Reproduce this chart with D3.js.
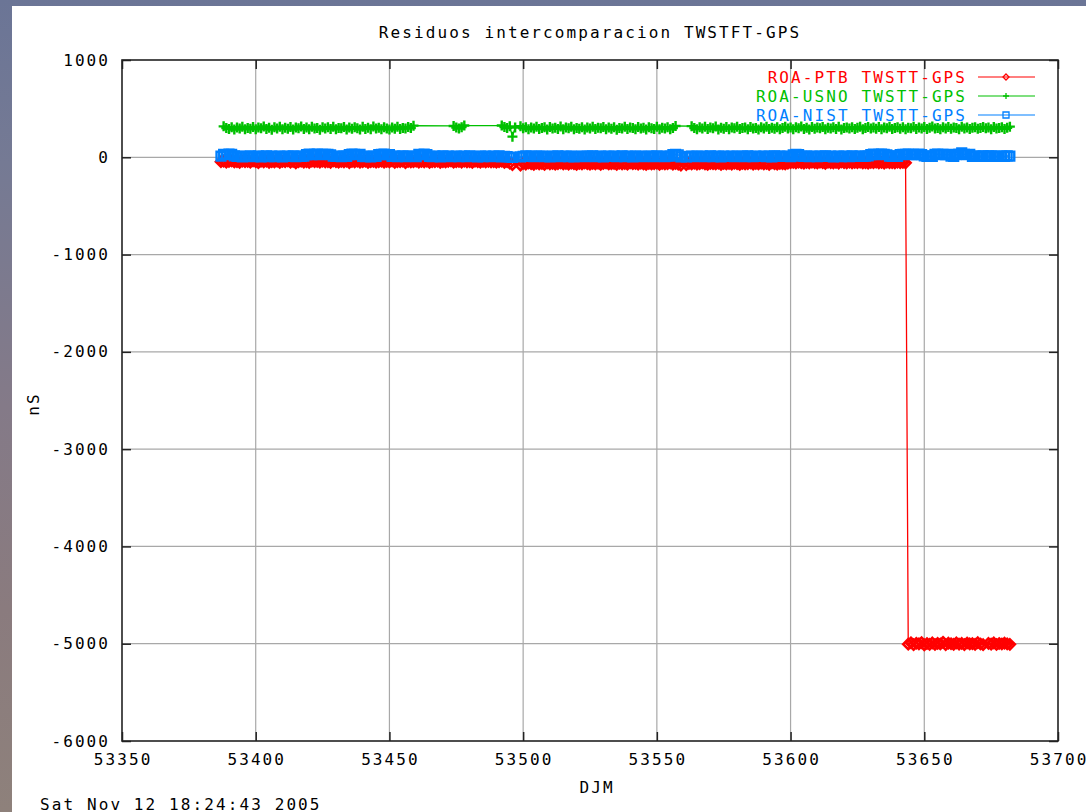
<!DOCTYPE html>
<html><head><meta charset="utf-8">
<script src="https://cdn.jsdelivr.net/npm/d3@7"></script>
<style>html,body{margin:0;padding:0;background:#fff;}svg{display:block;}</style>
</head><body>
<svg id="chart" width="1086" height="812"></svg>
<script>
// ---------------- DATA ----------------
const titleText = "Residuos intercomparacion TWSTFT-GPS";
const xLabelText = "DJM";
const yLabelText = "nS";
const dateText = "Sat Nov 12 18:24:43 2005";
const xTicks = [53350, 53400, 53450, 53500, 53550, 53600, 53650, 53700];
const yTicks = [1000, 0, -1000, -2000, -3000, -4000, -5000, -6000];
const seriesNames = ["ROA-PTB TWSTT-GPS", "ROA-USNO TWSTT-GPS", "ROA-NIST TWSTT-GPS"];

// daily samples (MJD = start + index), null = no measurement that day
const ptbStart = 53387;
const ptbValues = [
 -45,-40,-50,-42,-38,-48,-44,-52,-40,-46,
 -42,-50,-38,-45,-55,-41,-47,-39,-52,-44,
 -48,-40,-53,-43,-46,-38,-50,-42,-57,-45,
 -41,-49,-44,-52,-39,-46,-43,-51,-40,-47,
 -44,-52,-38,-46,-50,-42,-48,-40,-54,-43,
 -47,-41,-50,-44,-39,-53,-45,-42,-49,-46,
 -40,-51,-43,-47,-38,-52,-44,-46,-41,-55,
 -42,-48,-45,-39,-50,-43,-47,-41,-53,-44,
 -46,-40,-52,-44,-48,-42,-38,-51,-45,-43,
 -49,-41,-47,-44,-52,-40,-46,-50,-43,-48,
 -42,-47,-44,-51,-45,-40,-53,-46,-60,-75,
 null,null,-80,-62,-70,-58,-66,-72,-61,-68,
 -64,-73,-59,-67,-62,-71,-65,-58,-69,-63,
 -70,-60,-66,-74,-62,-68,-59,-65,-71,-63,
 -67,-61,-72,-64,-58,-69,-66,-62,-73,-60,
 -68,-63,-71,-59,-66,-64,-70,-61,-67,-74,
 -62,-69,-65,-60,-72,-63,-68,-66,-59,-71,
 -64,-70,-80,null,-75,-63,-68,-61,-70,-65,
 -59,-67,-72,-62,-66,-69,-60,-73,-64,-68,
 -63,-70,-61,-66,-74,-62,-68,-65,-59,-71,
 -64,-67,-60,-69,-63,-72,-58,-66,-70,-62,
 -65,-68,-61,-56,-52,-58,-50,-55,-60,-53,
 -57,-49,-54,-59,-51,-56,-62,-50,-55,-58,
 -52,-60,-48,-55,-57,-51,-59,-53,-56,-50,
 -58,-54,-61,-52,-55,-49,-57,-53,-60,-51,
 -56,-54,-59,-50,-55,-52,-57,
 -5005,-4990,-5010,-4995,-5002,-4988,-5012,-4998,-5006,-4992,
 -5008,-4996,-5003,-4985,-5011,-4994,-5000,-5007,-4991,-5004,
 -4997,-5009,-4993,-5002,-4999,-5006,-4989,-5003,-5010,null,
 -4996,-5005,-4992,-5008,-4998,-5003,-4994,-5001,-5006
];

const usnoStart = 53388;
const usnoValues = [
 318,300,292,310,285,305,296,315,288,302,
 294,312,287,306,298,316,290,303,284,309,
 297,314,289,304,293,311,286,307,299,317,
 291,305,288,313,295,302,284,310,296,308,
 290,315,287,301,298,312,285,306,294,309,
 299,286,313,292,304,289,316,295,303,288,
 310,297,285,307,293,314,290,301,296,311,
 300,325,
 null,null,null,null,null,null,null,null,null,null,null,null,null,null,
 322,305,295,310,326,
 null,null,null,null,null,null,null,null,null,null,null,null,null,
 326,312,300,318,212,305,
 null,
 320,298,310,288,305,295,314,290,302,309,
 286,311,297,304,292,316,289,306,299,313,
 287,301,294,310,285,307,296,315,291,303,
 298,312,288,305,293,309,284,302,297,314,
 290,306,300,288,311,295,303,286,308,299,
 292,315,289,304,296,310,287,301,322,
 null,null,null,null,null,
 320,300,287,309,296,313,290,305,298,316,
 285,303,294,311,289,307,299,314,292,302,
 306,288,312,295,301,286,309,297,315,291,
 304,293,310,287,300,313,296,305,289,308,
 298,316,291,303,285,311,294,306,299,312,
 288,304,297,310,292,315,286,301,307,295,
 309,290,303,314,287,300,311,296,305,293,
 312,289,306,298,315,291,302,308,294,310,
 287,304,299,313,292,307,296,311,290,303,
 316,295,301,288,309,297,312,293,305,300,
 289,314,296,307,291,303,310,294,300,312,
 298,306,288,311,295,302,309,292,304,315
];

const nistStart = 53387;
const nistValues = [
 12,30,28,32,30,15,8,12,5,10,
 8,14,6,10,12,4,9,15,7,11,
 6,10,13,5,9,12,8,14,6,10,
 9,12,28,32,26,30,34,27,31,29,
 30,26,12,8,10,6,14,9,28,32,
 30,26,29,10,7,12,5,11,8,27,
 30,33,26,28,9,12,6,10,14,7,
 11,8,13,6,30,27,32,28,10,7,
 12,9,5,14,8,11,6,10,13,7,
 9,12,6,15,8,10,5,13,7,11,
 9,6,12,8,14,5,10,7,3,-2,
 null,null,4,10,14,8,12,6,11,9,
 13,7,10,5,12,8,14,6,9,11,
 7,12,5,10,8,13,6,11,9,14,
 7,10,12,5,9,13,8,11,6,10,
 14,7,9,12,5,11,8,13,6,10,
 9,12,7,14,8,10,6,13,11,28,
 30,26,5,null,3,10,13,7,11,8,
 12,6,10,14,7,9,13,5,11,8,
 10,13,6,12,8,11,7,14,9,6,
 12,8,10,13,7,11,5,14,9,12,
 8,10,13,6,26,30,28,12,9,11,
 7,13,10,6,12,9,14,8,11,5,
 10,13,7,12,9,6,14,10,8,12,
 9,11,13,28,32,27,30,34,29,26,
 12,9,14,10,27,31,29,33,28,30,
 26,32,28,14,10,12,8,30,33,28,
 31,27,30,12,9,26,32,46,30,28,
 29,10,13,8,12,15,9,11,14,10,
 12,8,13,10,14,11
];

// ---------------- DRAW ----------------
const svg = d3.select("#chart");
const W = 1086, H = 812;
const M = {left: 122, right: 1058, top: 60, bottom: 741};
const FONT = "'DejaVu Sans Mono', monospace";
const FS = 16, LS = 2.1;

const defs = svg.append("defs");
const grad = defs.append("linearGradient").attr("id", "bg").attr("x1", 0).attr("y1", 0).attr("x2", 0).attr("y2", 1);
[["0%", "#6b7596"], ["20%", "#757a94"], ["50%", "#847a88"], ["75%", "#8a7b7e"], ["100%", "#8e817b"]]
  .forEach(([o, c]) => grad.append("stop").attr("offset", o).attr("stop-color", c));
svg.append("rect").attr("width", W).attr("height", H).attr("fill", "url(#bg)");
svg.append("rect").attr("x", 12).attr("y", 6).attr("width", W - 12).attr("height", H - 6).attr("fill", "#ffffff");

const x = d3.scaleLinear().domain([53350, 53700]).range([M.left, M.right]);
const y = d3.scaleLinear().domain([-6000, 1000]).range([M.bottom, M.top]);

function txt(g, px, py, s, anchor, color) {
  let dx = 0;
  if (anchor === "end") dx = LS; else if (anchor === "middle") dx = LS / 2;
  return g.append("text").attr("x", px + dx).attr("y", py).text(s)
    .attr("font-family", FONT).attr("font-size", FS).attr("letter-spacing", LS)
    .attr("text-anchor", anchor).attr("dominant-baseline", "central")
    .attr("fill", color || "#000");
}

// grid
const grid = svg.append("g");
xTicks.slice(1, -1).forEach(t => grid.append("line")
  .attr("x1", x(t)).attr("x2", x(t)).attr("y1", M.top).attr("y2", M.bottom)
  .attr("stroke", "#a8a8a8").attr("stroke-width", 1.2));
yTicks.slice(1, -1).forEach(t => grid.append("line")
  .attr("x1", M.left).attr("x2", M.right).attr("y1", y(t)).attr("y2", y(t))
  .attr("stroke", "#a8a8a8").attr("stroke-width", 1.2));

// axes with inward ticks (all four sides)
const TL = 9;
function styleAxis(g) { g.select(".domain").remove(); g.selectAll("line").attr("stroke", "#222").attr("stroke-width", 1.5); }
svg.append("g").attr("transform", `translate(0,${M.bottom})`)
  .call(d3.axisBottom(x).tickValues(xTicks).tickSizeInner(-TL).tickSizeOuter(0).tickFormat("")).call(styleAxis);
svg.append("g").attr("transform", `translate(0,${M.top})`)
  .call(d3.axisTop(x).tickValues(xTicks).tickSizeInner(-TL).tickSizeOuter(0).tickFormat("")).call(styleAxis);
svg.append("g").attr("transform", `translate(${M.left},0)`)
  .call(d3.axisLeft(y).tickValues(yTicks).tickSizeInner(-TL).tickSizeOuter(0).tickFormat("")).call(styleAxis);
svg.append("g").attr("transform", `translate(${M.right},0)`)
  .call(d3.axisRight(y).tickValues(yTicks).tickSizeInner(-TL).tickSizeOuter(0).tickFormat("")).call(styleAxis);

// tick labels
const labels = svg.append("g");
xTicks.forEach(t => txt(labels, x(t), 759, String(t), "middle"));
yTicks.forEach(t => txt(labels, 108, y(t), String(t), "end"));

// series
const colors = ["#ff0000", "#00c000", "#0080ff"];
const markerPaths = [
  r => `M0,${-r}L${r},0L0,${r}L${-r},0Z`,
  r => `M${-r},0H${r}M0,${-r}V${r}`,
  r => `M${-r},${-r}H${r}V${r}H${-r}Z`
];
const plotMarker = [{r: 5, w: 2.6}, {r: 5, w: 2.4}, {r: 4.4, w: 2.4}];
const series = [
  {start: ptbStart, values: ptbValues},
  {start: usnoStart, values: usnoValues},
  {start: nistStart, values: nistValues}
];
const plot = svg.append("g");
const line = d3.line().x(d => x(d.mjd)).y(d => y(d.v));
series.forEach((s, k) => {
  const pts = s.values.map((v, i) => ({mjd: s.start + i, v})).filter(d => d.v !== null);
  const g = plot.append("g");
  g.append("path").attr("d", line(pts)).attr("fill", "none").attr("stroke", colors[k]).attr("stroke-width", 1.3);
  g.selectAll("path.m").data(pts).enter().append("path").attr("class", "m")
    .attr("transform", d => `translate(${x(d.mjd)},${y(d.v)})`)
    .attr("d", markerPaths[k](plotMarker[k].r))
    .attr("fill", "none").attr("stroke", colors[k]).attr("stroke-width", plotMarker[k].w);
});

// border
svg.append("rect").attr("x", M.left).attr("y", M.top)
  .attr("width", M.right - M.left).attr("height", M.bottom - M.top)
  .attr("fill", "none").attr("stroke", "#222").attr("stroke-width", 1.6);

// legend
const leg = svg.append("g");
const legY = [77, 96, 115];
seriesNames.forEach((name, k) => {
  txt(leg, 965, legY[k], name, "end", colors[k]);
  leg.append("line").attr("x1", 978).attr("x2", 1035).attr("y1", legY[k]).attr("y2", legY[k])
    .attr("stroke", colors[k]).attr("stroke-width", 1.2);
  leg.append("path").attr("transform", `translate(1006,${legY[k]})`)
    .attr("d", markerPaths[k](3)).attr("fill", "none")
    .attr("stroke", colors[k]).attr("stroke-width", 1.3);
});

// titles
txt(svg, 589, 32, titleText, "middle");
txt(svg, 596, 787, xLabelText, "middle");
txt(svg, 40, 804, dateText, "start");
const yl = txt(svg, 0, 0, yLabelText, "middle");
yl.attr("transform", "translate(33,405) rotate(-90)");
</script>
</body></html>
